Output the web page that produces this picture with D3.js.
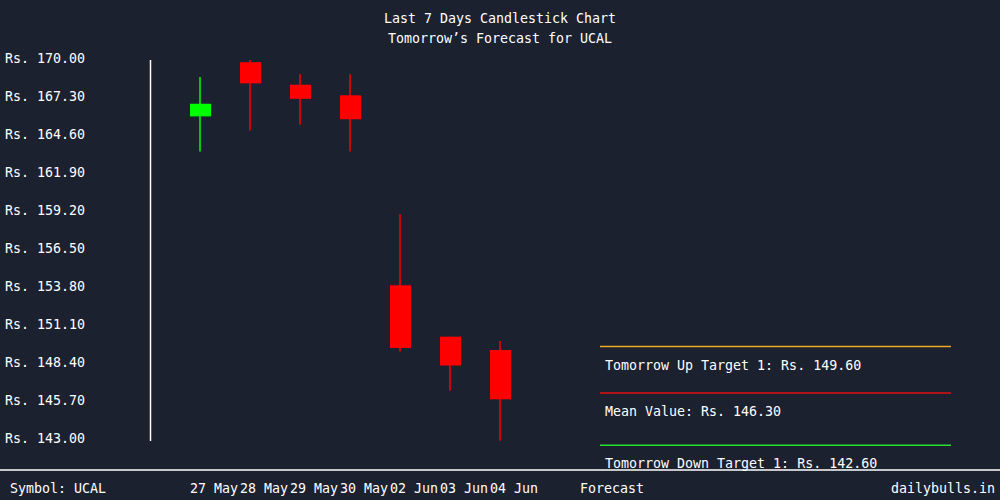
<!DOCTYPE html>
<html>
<head>
<meta charset="utf-8">
<script src="https://cdn.jsdelivr.net/npm/d3@7"></script>
<style>
  html, body { margin: 0; padding: 0; background: #1c2130; }
  svg { display: block; }
  text { font-family: "DejaVu Sans Mono", "Liberation Mono", monospace; font-size: 13.3px; fill: #ffffff; }
</style>
</head>
<body>
<div id="chart"></div>
<script>
const w = 1000, h = 500;

// last 7 days
const dates = ["27 May", "28 May", "29 May", "30 May", "02 Jun", "03 Jun", "04 Jun"];
const opens = [165.85, 169.70, 168.10, 167.35, 153.85, 150.20, 149.25];
const highs = [168.65, 169.85, 168.85, 168.85, 158.90, 150.20, 149.90];
const lows = [163.35, 164.85, 165.25, 163.35, 149.15, 146.35, 142.80];
const closes = [166.75, 168.20, 167.10, 165.65, 149.40, 148.15, 145.75];

const yTicks = [143.00, 145.70, 148.40, 151.10, 153.80, 156.50, 159.20, 161.90, 164.60, 167.30, 170.00];

const forecastLabels = ["Tomorrow Up Target 1", "Mean Value", "Tomorrow Down Target 1"];
const forecastValues = [149.60, 146.30, 142.60];
const forecastColors = ["#f0a828", "#e01010", "#28e030"];

const symbol = "UCAL";

const svg = d3.select("#chart").append("svg")
    .attr("width", w)
    .attr("height", h);

svg.append("rect").attr("width", w).attr("height", h).attr("fill", "#1c2130");

// titles
svg.append("text").attr("x", w / 2).attr("y", 23).attr("text-anchor", "middle")
    .text("Last 7 Days Candlestick Chart");
svg.append("text").attr("x", w / 2).attr("y", 43).attr("text-anchor", "middle")
    .text("Tomorrow\u2019s Forecast for " + symbol);

const y = d3.scaleLinear().domain([143, 170]).range([438, 58]);
const x = d3.scalePoint().domain(dates).range([200, 500]);

// y axis labels + line
svg.selectAll(".ylab").data(yTicks).enter().append("text")
    .attr("class", "ylab")
    .attr("x", 5)
    .attr("y", function (d) { return y(d) + 5; })
    .text(function (d) { return "Rs. " + d.toFixed(2); });

svg.append("line")
    .attr("x1", 150.5).attr("x2", 150.5)
    .attr("y1", 60).attr("y2", 441)
    .attr("stroke", "#ffffff").attr("stroke-width", 1.5);

const candles = dates.map(function (d, i) {
    return { date: d, o: opens[i], h: highs[i], l: lows[i], c: closes[i] };
});

const colorOf = function (d) { return d.c >= d.o ? "#00ff00" : "#ff0000"; };

const g = svg.append("g");

// wicks
g.selectAll(".wick").data(candles).enter().append("line")
    .attr("class", "wick")
    .attr("x1", function (d) { return x(d.date); })
    .attr("x2", function (d) { return x(d.date); })
    .attr("y1", function (d) { return y(d.h); })
    .attr("y2", function (d) { return y(d.l); })
    .attr("stroke", colorOf)
    .attr("stroke-width", 1.5);

// bodies
g.selectAll(".body").data(candles).enter().append("rect")
    .attr("class", "body")
    .attr("x", function (d) { return x(d.date) - 10; })
    .attr("width", 21)
    .attr("y", function (d) { return y(Math.max(d.o, d.c)); })
    .attr("height", function (d) { return Math.max(1, Math.abs(y(d.o) - y(d.c))); })
    .attr("fill", colorOf);

// forecast box
forecastValues.forEach(function (v, i) {
    const ly = y(v) + 1.5;
    svg.append("line")
        .attr("x1", 600).attr("x2", 951)
        .attr("y1", ly).attr("y2", ly)
        .attr("stroke", forecastColors[i]).attr("stroke-width", 1.5);
    svg.append("text")
        .attr("x", 605).attr("y", ly + 23)
        .text(forecastLabels[i] + ": Rs. " + v.toFixed(2));
});

// bottom bar
svg.append("line")
    .attr("x1", 0).attr("x2", w)
    .attr("y1", 470).attr("y2", 470)
    .attr("stroke", "#ffffff").attr("stroke-width", 1.5);

svg.append("text").attr("x", 10).attr("y", 493).text("Symbol: " + symbol);

svg.selectAll(".xlab").data(dates).enter().append("text")
    .attr("class", "xlab")
    .attr("x", function (d) { return x(d) - 10; })
    .attr("y", 493)
    .text(function (d) { return d; });

svg.append("text").attr("x", 580).attr("y", 493).text("Forecast");
svg.append("text").attr("x", 995).attr("y", 493).attr("text-anchor", "end").text("dailybulls.in");
</script>
</body>
</html>
